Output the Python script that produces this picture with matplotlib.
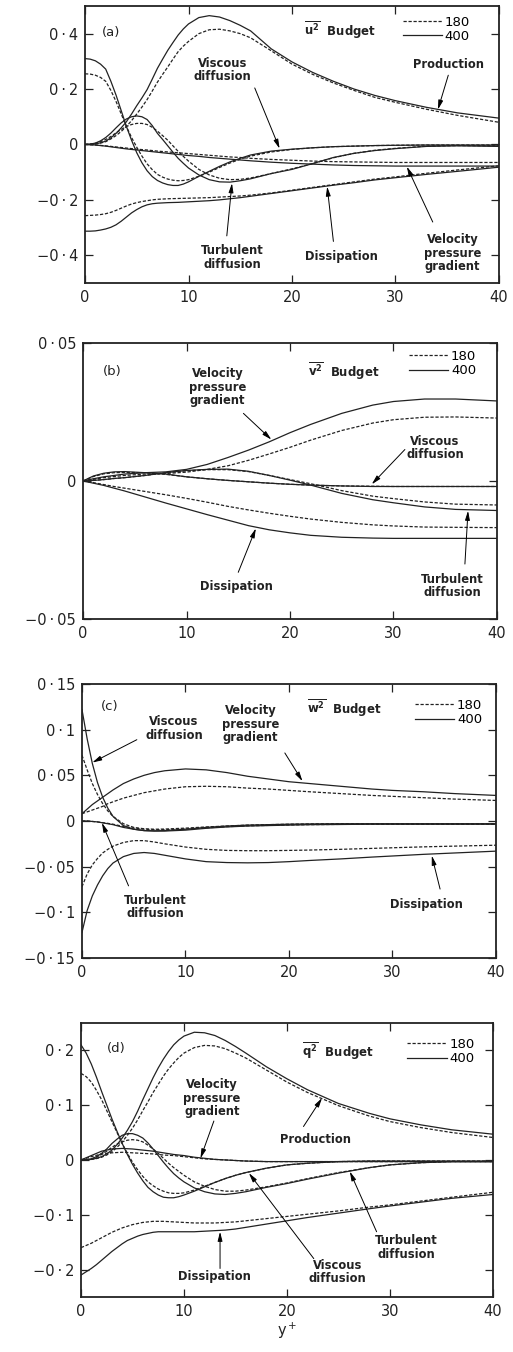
import matplotlib
matplotlib.use('Agg')
import matplotlib.pyplot as plt

plt.rcParams['font.family'] = ['DejaVu Sans']
plt.rcParams['mathtext.default'] = 'regular'

# ---- (a) u2 budget ----
ya = [0, 0.5, 1, 1.5, 2, 2.5, 3, 3.5, 4, 4.5, 5, 5.5, 6, 6.5, 7, 7.5, 8, 8.5, 9, 9.5, 10,
      11, 12, 13, 14, 15, 16, 18, 20, 22, 24, 26, 28, 30, 33, 36, 40]
a_prod_400 = [0, 0.0005, 0.002, 0.006, 0.012, 0.024, 0.04, 0.06, 0.082, 0.11, 0.14, 0.168, 0.198, 0.236, 0.275,
              0.308, 0.34, 0.368, 0.395, 0.417, 0.435,
              0.458, 0.465, 0.46, 0.447, 0.43, 0.41, 0.345, 0.298, 0.26, 0.228, 0.2, 0.177, 0.158, 0.134, 0.114, 0.095]
a_prod_180 = [0, 0.0005, 0.002, 0.005, 0.01, 0.02, 0.032, 0.047, 0.065, 0.086, 0.11, 0.135, 0.162, 0.193, 0.225,
              0.253, 0.28, 0.308, 0.335, 0.355, 0.372,
              0.4, 0.414, 0.416, 0.41, 0.4, 0.385, 0.338, 0.29, 0.253, 0.222, 0.195, 0.17, 0.152, 0.127, 0.105, 0.08]
a_diss_400 = [-0.313, -0.313, -0.312, -0.309, -0.305, -0.299, -0.29, -0.277, -0.262, -0.247, -0.235, -0.225, -0.218,
              -0.214, -0.212, -0.211, -0.21, -0.2095, -0.209, -0.208, -0.207,
              -0.205, -0.203, -0.2, -0.196, -0.192, -0.187, -0.177, -0.167, -0.157, -0.147, -0.138, -0.128, -0.12,
              -0.108, -0.097, -0.082]
a_diss_180 = [-0.257, -0.256, -0.255, -0.253, -0.25, -0.245, -0.238, -0.23, -0.222, -0.215, -0.21, -0.206, -0.203,
              -0.2, -0.198, -0.197, -0.196, -0.1955, -0.195, -0.1945, -0.194,
              -0.193, -0.192, -0.19, -0.188, -0.186, -0.183, -0.175, -0.165, -0.155, -0.145, -0.135, -0.125, -0.117,
              -0.104, -0.092, -0.077]
a_visc_400 = [0.31, 0.308, 0.302, 0.29, 0.272, 0.228, 0.178, 0.122, 0.065, 0.015, -0.03, -0.066, -0.095, -0.116, -0.13,
              -0.139, -0.145, -0.148, -0.148, -0.143, -0.135,
              -0.115, -0.097, -0.079, -0.063, -0.05, -0.038, -0.024, -0.017, -0.012, -0.008, -0.006, -0.004, -0.003,
              -0.002, -0.002, -0.002]
a_visc_180 = [0.255, 0.254, 0.25, 0.242, 0.228, 0.195, 0.155, 0.11, 0.065, 0.025, -0.01, -0.042, -0.07, -0.091, -0.108,
              -0.118, -0.125, -0.129, -0.131, -0.13, -0.127,
              -0.115, -0.1, -0.083, -0.067, -0.053, -0.042, -0.027, -0.018, -0.012, -0.008, -0.006, -0.004, -0.003,
              -0.002, -0.002, -0.002]
a_turb_400 = [0, 0.001, 0.005, 0.013, 0.025, 0.041, 0.06, 0.078, 0.092, 0.1, 0.103, 0.1, 0.09, 0.068, 0.04, 0.018,
              -0.005, -0.028, -0.05, -0.068, -0.085,
              -0.11, -0.127, -0.135, -0.136, -0.131, -0.124, -0.105, -0.09, -0.069, -0.047, -0.032, -0.022, -0.015,
              -0.007, -0.005, -0.007]
a_turb_180 = [0, 0.001, 0.004, 0.01, 0.018, 0.029, 0.042, 0.054, 0.065, 0.072, 0.076, 0.076, 0.072, 0.062, 0.048,
              0.032, 0.015, -0.005, -0.025, -0.043, -0.06,
              -0.09, -0.11, -0.122, -0.127, -0.126, -0.121, -0.105, -0.088, -0.069, -0.048, -0.032, -0.021, -0.014,
              -0.006, -0.004, -0.005]
a_vpg_400 = [0, -0.001, -0.002, -0.004, -0.006, -0.0085, -0.011, -0.0135, -0.016, -0.018, -0.02, -0.022, -0.024,
             -0.026, -0.028, -0.03, -0.032, -0.034, -0.036, -0.038, -0.04,
             -0.043, -0.047, -0.05, -0.053, -0.056, -0.059, -0.064, -0.068, -0.071, -0.074, -0.076, -0.077, -0.078,
             -0.078, -0.078, -0.078]
a_vpg_180 = [0, -0.001, -0.002, -0.0035, -0.005, -0.007, -0.009, -0.011, -0.013, -0.015, -0.017, -0.0185, -0.02,
             -0.022, -0.024, -0.0255, -0.027, -0.0285, -0.03, -0.0315, -0.033,
             -0.036, -0.039, -0.042, -0.045, -0.047, -0.05, -0.054, -0.057, -0.06, -0.062, -0.063, -0.064, -0.065,
             -0.065, -0.065, -0.065]

# ---- (b) v2 budget ----
yb = [0, 1, 2, 3, 4, 6, 8, 10, 12, 14, 16, 18, 20, 22, 25, 28, 30, 33, 36, 40]
b_vpg_400 = [0, 0.0008, 0.0015, 0.002, 0.0025, 0.003, 0.0033, 0.0042, 0.006, 0.0085, 0.0112, 0.0142, 0.0175,
             0.0205, 0.0245, 0.0275, 0.0288, 0.0297, 0.0297, 0.029]
b_vpg_180 = [0, 0.0006, 0.0012, 0.0016, 0.002, 0.0025, 0.0027, 0.0032, 0.0042, 0.0055, 0.0075, 0.0098, 0.0122,
             0.0148, 0.0183, 0.021, 0.0222, 0.0231, 0.0232, 0.0228]
b_visc_400 = [0, 0.0018, 0.0028, 0.0033, 0.0034, 0.003, 0.0025, 0.0015, 0.0008, 0.0002, -0.0003, -0.0008, -0.0012,
              -0.0015, -0.0018, -0.002, -0.002, -0.002, -0.002, -0.002]
b_visc_180 = [0, 0.0016, 0.0026, 0.003, 0.0031, 0.003, 0.0024, 0.0015, 0.0008, 0.0002, -0.0003, -0.0008, -0.0012,
              -0.0015, -0.0018, -0.0019, -0.002, -0.002, -0.002, -0.002]
b_turb_400 = [0, 0.0002, 0.0005, 0.0009, 0.0012, 0.002, 0.003, 0.0038, 0.0042, 0.0043, 0.0035, 0.002, 0.0003,
              -0.0015, -0.0045, -0.0068, -0.0079, -0.0094, -0.0103, -0.0107]
b_turb_180 = [0, 0.0002, 0.0005, 0.0009, 0.0012, 0.002, 0.003, 0.0037, 0.0041, 0.0041, 0.0034, 0.002, 0.0005,
              -0.001, -0.0035, -0.0055, -0.0064, -0.0076, -0.0084, -0.0087]
b_diss_400 = [0, -0.0008, -0.0016, -0.0026, -0.0036, -0.0058, -0.008, -0.0101, -0.0122, -0.0142, -0.0162, -0.0177,
              -0.0188, -0.0197, -0.0204, -0.0207, -0.0208, -0.0208, -0.0208, -0.0208]
b_diss_180 = [0, -0.0006, -0.0013, -0.002, -0.0026, -0.0038, -0.005, -0.0063, -0.0077, -0.0092, -0.0105, -0.0117,
              -0.0128, -0.0138, -0.015, -0.0159, -0.0163, -0.0167, -0.0168, -0.0169]

# ---- (c) w2 budget ----
yc = [0, 0.5, 1, 1.5, 2, 2.5, 3, 4, 5, 6, 7, 8, 10, 12, 14, 16, 18, 20, 22, 25, 28, 30, 33, 36, 40]
c_vpg_400 = [0.008, 0.013, 0.018, 0.022, 0.026, 0.03, 0.034, 0.041, 0.046, 0.05, 0.053, 0.055, 0.057, 0.056, 0.053,
             0.049, 0.046, 0.043, 0.041, 0.038, 0.035, 0.0335, 0.032, 0.03, 0.028]
c_vpg_180 = [0.008, 0.01, 0.012, 0.014, 0.016, 0.019, 0.021, 0.025, 0.028, 0.031, 0.033, 0.035, 0.0375, 0.038,
             0.0375, 0.036, 0.035, 0.0335, 0.032, 0.03, 0.028, 0.027, 0.0255, 0.024, 0.0225]
c_visc_400 = [0.122, 0.09, 0.063, 0.042, 0.026, 0.014, 0.005, -0.005, -0.009, -0.0105, -0.0108, -0.0105, -0.009,
              -0.007, -0.0055, -0.0045, -0.004, -0.0035, -0.0032, -0.003, -0.003, -0.003, -0.003, -0.003, -0.003]
c_visc_180 = [0.072, 0.056, 0.041, 0.029, 0.019, 0.011, 0.005, -0.003, -0.007, -0.0085, -0.009, -0.0088, -0.0078,
              -0.0065, -0.0055, -0.0045, -0.004, -0.0035, -0.0032, -0.003, -0.003, -0.003, -0.003, -0.003, -0.003]
c_turb_400 = [0, 0, -0.0005, -0.001, -0.002, -0.003, -0.004, -0.007, -0.009, -0.0105, -0.011, -0.011, -0.01, -0.008,
              -0.0065, -0.0055, -0.005, -0.0045, -0.004, -0.0038, -0.0035, -0.0035, -0.0035, -0.0035, -0.0035]
c_turb_180 = [0, 0, -0.0005, -0.001, -0.0018, -0.0026, -0.0035, -0.006, -0.0078, -0.009, -0.0095, -0.0095, -0.0088,
              -0.0075, -0.0062, -0.0053, -0.0048, -0.0043, -0.004, -0.0037, -0.0035, -0.0035, -0.0035, -0.0035, -0.0035]
c_diss_400 = [-0.122, -0.098, -0.082, -0.07, -0.06, -0.052, -0.046, -0.039, -0.0355, -0.0345, -0.0355, -0.0375,
              -0.0415, -0.0445, -0.0455, -0.0458, -0.0455, -0.0445, -0.0432, -0.0415, -0.0395, -0.0383, -0.0365,
              -0.035, -0.033]
c_diss_180 = [-0.072, -0.058, -0.048, -0.041, -0.035, -0.031, -0.0275, -0.0235, -0.0215, -0.0215, -0.023, -0.025,
              -0.0285, -0.031, -0.0322, -0.0325, -0.0325, -0.0322, -0.0318, -0.031, -0.03, -0.0293, -0.0283,
              -0.0275, -0.0265]

# ---- (d) q2 budget ----
yd = [0, 0.5, 1, 1.5, 2, 2.5, 3, 3.5, 4, 4.5, 5, 5.5, 6, 6.5, 7, 7.5, 8, 8.5, 9, 9.5, 10,
      11, 12, 13, 14, 15, 16, 18, 20, 22, 25, 28, 30, 33, 36, 40]
d_prod_400 = [0, 0.0003, 0.001, 0.003, 0.006, 0.011, 0.018, 0.028, 0.04, 0.054, 0.07, 0.089, 0.11, 0.13, 0.15,
              0.168, 0.184, 0.198, 0.21, 0.219, 0.226,
              0.233, 0.232, 0.227, 0.218, 0.207, 0.195, 0.17, 0.148, 0.128, 0.103, 0.085, 0.075, 0.064, 0.055, 0.047]
d_prod_180 = [0, 0.0003, 0.001, 0.0025, 0.005, 0.009, 0.015, 0.023, 0.033, 0.045, 0.058, 0.073, 0.09, 0.106, 0.123,
              0.138, 0.153, 0.166, 0.177, 0.187, 0.195,
              0.205, 0.209, 0.208, 0.203, 0.195, 0.186, 0.164, 0.142, 0.123, 0.099, 0.08, 0.07, 0.059, 0.05, 0.041]
d_diss_400 = [-0.21, -0.204, -0.198, -0.191, -0.183, -0.175, -0.167, -0.16, -0.153, -0.147, -0.143, -0.139, -0.136,
              -0.134, -0.132, -0.131, -0.131, -0.131, -0.131, -0.131, -0.131,
              -0.131, -0.13, -0.129, -0.128, -0.126, -0.123, -0.117, -0.111, -0.105, -0.097, -0.089, -0.084, -0.077,
              -0.07, -0.063]
d_diss_180 = [-0.16, -0.156, -0.152, -0.147, -0.142, -0.137, -0.132, -0.128, -0.124, -0.121, -0.118, -0.116, -0.114,
              -0.113, -0.112, -0.112, -0.112, -0.1125, -0.113, -0.1135, -0.114,
              -0.115, -0.115, -0.115, -0.114, -0.113, -0.111, -0.107, -0.103, -0.099, -0.093, -0.086, -0.082, -0.075,
              -0.068, -0.059]
d_visc_400 = [0.21, 0.195, 0.175, 0.151, 0.125, 0.1, 0.075, 0.052, 0.03, 0.01, -0.008, -0.024, -0.038, -0.05, -0.058,
              -0.064, -0.068, -0.069, -0.069, -0.067, -0.064,
              -0.057, -0.049, -0.041, -0.034, -0.028, -0.023, -0.015, -0.009, -0.006, -0.003, -0.002, -0.002, -0.002,
              -0.002, -0.002]
d_visc_180 = [0.158, 0.152, 0.142, 0.127, 0.11, 0.09, 0.07, 0.05, 0.03, 0.012, -0.004, -0.018, -0.03, -0.04, -0.047,
              -0.053, -0.057, -0.06, -0.061, -0.061, -0.06,
              -0.055, -0.048, -0.041, -0.034, -0.028, -0.023, -0.015, -0.009, -0.006, -0.003, -0.002, -0.002, -0.002,
              -0.002, -0.002]
d_turb_400 = [0, 0.0005, 0.002, 0.006, 0.012, 0.02, 0.03, 0.038, 0.045, 0.048, 0.048, 0.045, 0.04, 0.031, 0.02,
              0.008, -0.004, -0.015, -0.025, -0.033, -0.04,
              -0.051, -0.058, -0.062, -0.063, -0.061, -0.058, -0.05, -0.043, -0.035, -0.024, -0.014, -0.009, -0.005,
              -0.003, -0.003]
d_turb_180 = [0, 0.0005, 0.002, 0.005, 0.01, 0.016, 0.023, 0.029, 0.033, 0.036, 0.037, 0.036, 0.033, 0.027, 0.02,
              0.012, 0.003, -0.006, -0.014, -0.021, -0.028,
              -0.04, -0.048, -0.054, -0.057, -0.057, -0.055, -0.049, -0.042, -0.034, -0.023, -0.014, -0.009, -0.005,
              -0.003, -0.003]
d_vpg_400 = [0, 0.004, 0.008, 0.012, 0.016, 0.018, 0.02, 0.0205, 0.021, 0.0205, 0.02, 0.019, 0.018, 0.017, 0.016,
             0.0145, 0.013, 0.0115, 0.01, 0.009, 0.008,
             0.005, 0.003, 0.001, 0, -0.001, -0.002, -0.003, -0.003, -0.003, -0.003, -0.003, -0.003, -0.003, -0.003,
             -0.003]
d_vpg_180 = [0, 0.003, 0.006, 0.0085, 0.011, 0.012, 0.013, 0.0135, 0.014, 0.0135, 0.013, 0.0125, 0.012, 0.0115, 0.011,
             0.01, 0.009, 0.0085, 0.008, 0.007, 0.006,
             0.004, 0.002, 0.001, 0, -0.001, -0.002, -0.003, -0.003, -0.003, -0.003, -0.003, -0.003, -0.003, -0.003,
             -0.003]

x_ticks = [0, 10, 20, 30, 40]
ticks_a = [-0.4, -0.2, 0, 0.2, 0.4]
ticks_b = [-0.05, 0, 0.05]
ticks_c = [-0.15, -0.1, -0.05, 0, 0.05, 0.1, 0.15]
ticks_d = [-0.2, -0.1, 0, 0.1, 0.2]
re_labels = ['180', '400']

LW = 0.9
DASH = (2.6, 1.4)
INK = '#222222'
ARROW = dict(arrowstyle='-|>,head_length=0.55,head_width=0.14', lw=0.7, color='k', shrinkA=0, shrinkB=0)


def tick_text(v):
    if v == 0:
        return '0'
    s = ('%g' % abs(v)).replace('.', '\u2009·\u2009')
    return ('\u2212' if v < 0 else '') + s


def setup(ax, ylim, yticks):
    ax.set_xlim(0, 40)
    ax.set_ylim(*ylim)
    ax.set_xticks(x_ticks)
    ax.set_xticklabels([str(t) for t in x_ticks])
    ax.set_yticks(yticks)
    ax.set_yticklabels([tick_text(t) for t in yticks])
    ax.tick_params(direction='in', top=True, right=True, length=6, width=0.9,
                   labelsize=10.5, pad=5, colors=INK)
    for sp in ax.spines.values():
        sp.set_linewidth(1.3)
        sp.set_color(INK)


def curves(ax, yp, pairs):
    hd = hs = None
    for v180, v400 in pairs:
        hd, = ax.plot(yp, v180, color=INK, lw=LW, dashes=DASH)
        hs, = ax.plot(yp, v400, color=INK, lw=LW)
    return hd, hs


def legend(ax, hd, hs, anchor):
    ax.legend([hd, hs], re_labels, loc='upper right', bbox_to_anchor=anchor, frameon=False,
              fontsize=9.5, handlelength=3.0, handletextpad=0.2, labelspacing=0.1,
              borderpad=0, borderaxespad=0)


def lab(ax, text, xy, tail=None, tip=None):
    ax.text(xy[0], xy[1], text, ha='center', va='center', fontsize=8.3, fontweight='bold',
            linespacing=1.05, color=INK)
    if tip is not None:
        ax.annotate('', xy=tip, xytext=tail, arrowprops=ARROW)


def header(ax, tag, budget, tag_xy, bud_xy):
    ax.text(tag_xy[0], tag_xy[1], tag, ha='left', va='center', fontsize=9.5, color=INK)
    ax.text(bud_xy[0], bud_xy[1], budget, ha='left', va='center', fontsize=8.5, fontweight='bold', color=INK)


fig = plt.figure(figsize=(5.13, 13.52), dpi=100)

# (a)
ax = fig.add_axes([0.1657, 0.7907, 0.807, 0.2049])
hd, hs = curves(ax, ya, [(a_prod_180, a_prod_400), (a_diss_180, a_diss_400), (a_visc_180, a_visc_400),
                         (a_turb_180, a_turb_400), (a_vpg_180, a_vpg_400)])
setup(ax, (-0.5, 0.5), ticks_a)
legend(ax, hd, hs, (0.93, 0.965))
header(ax, '(a)', r'$\overline{u^2}$  Budget', (1.6, 0.405), (21.2, 0.41))
lab(ax, 'Viscous\ndiffusion', (13.3, 0.268), (16.4, 0.204), (18.8, -0.015))
lab(ax, 'Production', (35.1, 0.29), (35.1, 0.25), (34.1, 0.126))
lab(ax, 'Turbulent\ndiffusion', (14.2, -0.408), (13.7, -0.33), (14.2, -0.14))
lab(ax, 'Dissipation', (24.8, -0.404), (24.0, -0.35), (23.4, -0.152))
lab(ax, 'Velocity\npressure\ngradient', (35.5, -0.392), (33.6, -0.28), (31.1, -0.08))

# (b)
ax = fig.add_axes([0.1618, 0.5422, 0.807, 0.2041])
hd, hs = curves(ax, yb, [(b_vpg_180, b_vpg_400), (b_visc_180, b_visc_400), (b_turb_180, b_turb_400),
                         (b_diss_180, b_diss_400)])
setup(ax, (-0.05, 0.05), ticks_b)
legend(ax, hd, hs, (0.95, 0.975))
header(ax, '(b)', r'$\overline{v^2}$  Budget', (1.9, 0.0398), (21.7, 0.0398))
lab(ax, 'Velocity\npressure\ngradient', (13.0, 0.034), (15.5, 0.0245), (18.2, 0.015))
lab(ax, 'Viscous\ndiffusion', (34.0, 0.012), (31.1, 0.0114), (27.9, -0.0012))
lab(ax, 'Dissipation', (14.8, -0.0383), (15.0, -0.0331), (16.7, -0.0172))
lab(ax, 'Turbulent\ndiffusion', (35.7, -0.038), (36.9, -0.0301), (37.2, -0.0108))

# (c)
ax = fig.add_axes([0.1598, 0.2914, 0.807, 0.2027])
hd, hs = curves(ax, yc, [(c_vpg_180, c_vpg_400), (c_visc_180, c_visc_400), (c_turb_180, c_turb_400),
                         (c_diss_180, c_diss_400)])
setup(ax, (-0.15, 0.15), ticks_c)
legend(ax, hd, hs, (0.967, 0.945))
header(ax, '(c)', r'$\overline{w^2}$  Budget', (1.8, 0.125), (21.7, 0.123))
lab(ax, 'Viscous\ndiffusion', (8.9, 0.101), (5.3, 0.089), (1.0, 0.064))
lab(ax, 'Velocity\npressure\ngradient', (16.3, 0.106), (19.6, 0.0745), (21.3, 0.0436))
lab(ax, 'Turbulent\ndiffusion', (7.1, -0.094), (4.5, -0.071), (1.93, -0.002))
lab(ax, 'Dissipation', (33.3, -0.091), (34.6, -0.0745), (33.8, -0.038))

# (d)
ax = fig.add_axes([0.1579, 0.0407, 0.8031, 0.2027])
hd, hs = curves(ax, yd, [(d_prod_180, d_prod_400), (d_diss_180, d_diss_400), (d_visc_180, d_visc_400),
                         (d_turb_180, d_turb_400), (d_vpg_180, d_vpg_400)])
setup(ax, (-0.25, 0.25), ticks_d)
legend(ax, hd, hs, (0.955, 0.945))
header(ax, '(d)', r'$\overline{q^2}$  Budget', (2.5, 0.2025), (21.5, 0.198))
lab(ax, 'Velocity\npressure\ngradient', (12.7, 0.113), (12.9, 0.071), (11.6, 0.003))
lab(ax, 'Production', (22.75, 0.0366), (21.6, 0.061), (23.4, 0.113))
lab(ax, 'Dissipation', (13.0, -0.213), (13.5, -0.198), (13.5, -0.131))
lab(ax, 'Viscous\ndiffusion', (24.9, -0.2045), (22.6, -0.18), (16.3, -0.024))
lab(ax, 'Turbulent\ndiffusion', (31.6, -0.16), (28.7, -0.131), (26.1, -0.021))
ax.set_xlabel('$y^+$', fontsize=10.5, labelpad=1, color=INK)

fig.savefig('out.png', dpi=100, facecolor='white')
